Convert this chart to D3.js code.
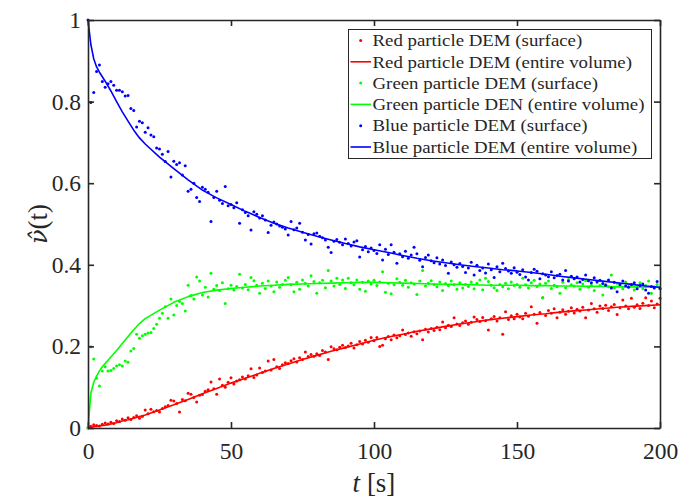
<!DOCTYPE html>
<html>
<head>
<meta charset="utf-8">
<script src="https://cdn.jsdelivr.net/npm/d3@7"></script>
<style>
  html, body { margin: 0; padding: 0; background: #fff; }
  svg { display: block; }
</style>
</head>
<body>
<svg id="chart" width="681" height="502"></svg>
<script>
// Mixing index of each tracer species, sampled once per second (surface particles)
const redSurface = [
  0, 0.004, 0.008, 0.006, 0.005, 0.009, 0.012, 0.010, 0.014, 0.011,
  0.018, 0.016, 0.022, 0.019, 0.025, 0.021, 0.026, 0.030, 0.024, 0.028,
  0.044, 0.035, 0.046, 0.040, 0.043, 0.039, 0.048, 0.052, 0.055, 0.068,
  0.066, 0.060, 0.039, 0.070, 0.067, 0.085, 0.083, 0.075, 0.064, 0.080,
  0.082, 0.090, 0.094, 0.113, 0.096, 0.083, 0.120, 0.105, 0.100, 0.112,
  0.123, 0.108, 0.115, 0.118, 0.125, 0.120, 0.128, 0.145, 0.124, 0.130,
  0.147, 0.136, 0.140, 0.164, 0.142, 0.168, 0.150, 0.146, 0.155, 0.160,
  0.158, 0.165, 0.170, 0.162, 0.172, 0.168, 0.186, 0.175, 0.180, 0.176,
  0.182, 0.178, 0.190, 0.186, 0.168, 0.199, 0.194, 0.192, 0.198, 0.203,
  0.197, 0.201, 0.208, 0.196, 0.204, 0.212, 0.206, 0.215, 0.210, 0.222,
  0.214, 0.222, 0.200, 0.203, 0.219, 0.224, 0.216, 0.228, 0.221, 0.226,
  0.240, 0.229, 0.233, 0.225, 0.236, 0.231, 0.238, 0.216, 0.242, 0.235,
  0.244, 0.239, 0.247, 0.241, 0.260, 0.246, 0.252, 0.249, 0.270, 0.255,
  0.251, 0.258, 0.262, 0.254, 0.259, 0.272, 0.266, 0.261, 0.271, 0.263,
  0.240, 0.268, 0.273, 0.262, 0.270, 0.230, 0.285, 0.266, 0.275, 0.268,
  0.279, 0.272, 0.268, 0.281, 0.274, 0.297, 0.279, 0.257, 0.283, 0.319,
  0.276, 0.288, 0.281, 0.292, 0.270, 0.284, 0.290, 0.279, 0.286, 0.295,
  0.282, 0.291, 0.287, 0.296, 0.270, 0.289, 0.305, 0.292, 0.284, 0.299,
  0.293, 0.301, 0.288, 0.297, 0.303, 0.278, 0.295, 0.314, 0.299, 0.292,
  0.318, 0.296, 0.302, 0.293, 0.306, 0.319, 0.300, 0.311, 0.295, 0.304,
  0.318
];
const greenSurface = [
  0, 0.199, 0.169, 0.122, 0.103, 0.140, 0.150, 0.140, 0.141, 0.146,
  0.152, 0.155, 0.152, 0.164, 0.161, 0.189, 0.195, 0.230, 0.220, 0.226,
  0.230, 0.233, 0.234, 0.244, 0.254, 0.269, 0.281, 0.297, 0.269, 0.316,
  0.277, 0.300, 0.310, 0.305, 0.287, 0.350, 0.325, 0.316, 0.370, 0.360,
  0.326, 0.345, 0.321, 0.379, 0.340, 0.349, 0.337, 0.356, 0.305, 0.341,
  0.350, 0.338, 0.347, 0.377, 0.343, 0.352, 0.339, 0.369, 0.361, 0.350,
  0.330, 0.355, 0.342, 0.360, 0.348, 0.334, 0.358, 0.345, 0.352, 0.362,
  0.369, 0.351, 0.334, 0.357, 0.340, 0.363, 0.355, 0.348, 0.373, 0.359,
  0.330, 0.356, 0.362, 0.344, 0.386, 0.360, 0.348, 0.367, 0.352, 0.363,
  0.342, 0.367, 0.356, 0.351, 0.363, 0.340, 0.357, 0.335, 0.360, 0.353,
  0.362, 0.349, 0.358, 0.383, 0.333, 0.355, 0.329, 0.351, 0.366, 0.357,
  0.350, 0.362, 0.345, 0.356, 0.353, 0.327, 0.360, 0.386, 0.348, 0.355,
  0.361, 0.352, 0.346, 0.358, 0.337, 0.354, 0.349, 0.360, 0.351, 0.340,
  0.356, 0.343, 0.352, 0.347, 0.358, 0.341, 0.355, 0.363, 0.339, 0.367,
  0.359, 0.350, 0.344, 0.337, 0.352, 0.346, 0.355, 0.341, 0.358, 0.349,
  0.352, 0.345, 0.367, 0.351, 0.343, 0.356, 0.362, 0.347, 0.353, 0.319,
  0.355, 0.360, 0.342, 0.350, 0.346, 0.330, 0.357, 0.344, 0.364, 0.351,
  0.348, 0.356, 0.340, 0.353, 0.361, 0.345, 0.350, 0.337, 0.356, 0.349,
  0.326, 0.352, 0.346, 0.375, 0.343, 0.355, 0.349, 0.341, 0.358, 0.347,
  0.352, 0.338, 0.345, 0.356, 0.341, 0.349, 0.360, 0.330, 0.346, 0.352,
  0.341
];
const blueSurface = [
  1.000, 0.798, 0.822, 0.874, 0.890, 0.849, 0.835, 0.844, 0.849, 0.840,
  0.828, 0.828, 0.824, 0.814, 0.815, 0.783, 0.778, 0.738, 0.752, 0.748,
  0.725, 0.736, 0.718, 0.714, 0.686, 0.684, 0.671, 0.653, 0.678, 0.615,
  0.654, 0.646, 0.650, 0.620, 0.643, 0.580, 0.585, 0.600, 0.565, 0.555,
  0.590, 0.585, 0.578, 0.506, 0.565, 0.580, 0.558, 0.550, 0.592, 0.545,
  0.548, 0.540, 0.552, 0.502, 0.535, 0.528, 0.520, 0.485, 0.530, 0.524,
  0.515, 0.520, 0.510, 0.479, 0.497, 0.505, 0.500, 0.495, 0.492, 0.488,
  0.473, 0.506, 0.486, 0.490, 0.502, 0.480, 0.461, 0.474, 0.451, 0.476,
  0.478, 0.470, 0.466, 0.461, 0.443, 0.430, 0.458, 0.462, 0.455, 0.449,
  0.463, 0.452, 0.446, 0.456, 0.459, 0.419, 0.437, 0.445, 0.432, 0.441,
  0.435, 0.428, 0.449, 0.412, 0.438, 0.425, 0.449, 0.431, 0.404, 0.427,
  0.420, 0.433, 0.416, 0.424, 0.443, 0.427, 0.411, 0.395, 0.418, 0.424,
  0.410, 0.405, 0.417, 0.402, 0.412, 0.398, 0.379, 0.407, 0.400, 0.394,
  0.403, 0.396, 0.381, 0.392, 0.406, 0.375, 0.399, 0.386, 0.392, 0.380,
  0.402, 0.388, 0.369, 0.395, 0.383, 0.404, 0.391, 0.385, 0.379, 0.393,
  0.382, 0.376, 0.388, 0.370, 0.363, 0.381, 0.389, 0.384, 0.366, 0.378,
  0.375, 0.371, 0.383, 0.368, 0.374, 0.377, 0.363, 0.386, 0.360, 0.372,
  0.366, 0.370, 0.358, 0.364, 0.375, 0.361, 0.356, 0.368, 0.359, 0.362,
  0.354, 0.350, 0.363, 0.343, 0.357, 0.334, 0.352, 0.360, 0.348, 0.345,
  0.352, 0.356, 0.341, 0.349, 0.353, 0.338, 0.330, 0.347, 0.343, 0.359,
  0.342
];

// Whole-volume curves, sampled at these times [s]
const volumeTimes = [0, 1, 2, 3, 4, 5, 6, 8, 10, 12, 14, 16, 18, 20,
  25, 30, 35, 40, 45, 50, 55, 60, 65, 70, 75, 80, 85, 90, 95, 100,
  105, 110, 115, 120, 125, 130, 135, 140, 145, 150, 155, 160, 165, 170,
  175, 180, 185, 190, 195, 200];
const redVolume = [0, 0.002, 0.003, 0.004, 0.005, 0.006, 0.007, 0.010, 0.013, 0.017, 0.020, 0.024, 0.028, 0.032,
  0.044, 0.057, 0.070, 0.084, 0.097, 0.110, 0.122, 0.134, 0.146, 0.157, 0.168, 0.178, 0.188, 0.197, 0.206, 0.215,
  0.223, 0.230, 0.237, 0.243, 0.249, 0.255, 0.260, 0.265, 0.269, 0.273, 0.277, 0.280, 0.284, 0.287,
  0.290, 0.293, 0.296, 0.298, 0.300, 0.302];
const greenVolume = [0, 0.085, 0.112, 0.127, 0.140, 0.150, 0.158, 0.174, 0.190, 0.207, 0.224, 0.241, 0.256, 0.268,
  0.289, 0.308, 0.322, 0.332, 0.338, 0.342, 0.345, 0.348, 0.350, 0.352, 0.353, 0.354, 0.355, 0.356, 0.357, 0.357,
  0.356, 0.355, 0.354, 0.353, 0.352, 0.352, 0.351, 0.350, 0.350, 0.350, 0.349, 0.349, 0.348, 0.348,
  0.347, 0.347, 0.346, 0.346, 0.345, 0.345];
const blueVolume = [1.000, 0.940, 0.905, 0.885, 0.872, 0.861, 0.850, 0.826, 0.800, 0.775, 0.752, 0.730, 0.711, 0.696,
  0.664, 0.636, 0.608, 0.583, 0.564, 0.548, 0.531, 0.516, 0.502, 0.490, 0.480, 0.470, 0.461, 0.452, 0.444, 0.437,
  0.430, 0.423, 0.416, 0.410, 0.405, 0.400, 0.396, 0.392, 0.388, 0.385, 0.381, 0.377, 0.372, 0.368,
  0.364, 0.360, 0.356, 0.352, 0.348, 0.345];

const xTicks = [0, 50, 100, 150, 200];
const yTicks = [0, 0.2, 0.4, 0.6, 0.8, 1];
const legendLabels = [
  "Red particle DEM (surface)",
  "Red particle DEM (entire volume)",
  "Green particle DEM (surface)",
  "Green particle DEN (entire volume)",
  "Blue particle DEM (surface)",
  "Blue particle DEM (entire volume)"
];

const colors = { red: "#ff0000", green: "#00ff00", blue: "#0000ff" };
const axisColor = "#262626";
const serif = "Liberation Serif";

const svg = d3.select("#chart");
const plot = { left: 88, right: 660, top: 20, bottom: 428 };

const x = d3.scaleLinear().domain([0, 200]).range([plot.left, plot.right]);
const y = d3.scaleLinear().domain([0, 1]).range([plot.bottom, plot.top]);

const series = [
  { surface: redSurface, volume: redVolume, color: colors.red },
  { surface: greenSurface, volume: greenVolume, color: colors.green },
  { surface: blueSurface, volume: blueVolume, color: colors.blue }
];

const line = d3.line().x(d => x(d[0])).y(d => y(d[1]));
const data = svg.append("g");

series.forEach(s => {
  data.append("g").selectAll("circle")
    .data(s.surface)
    .join("circle")
    .attr("cx", (v, i) => x(i))
    .attr("cy", v => y(v))
    .attr("r", 1.5)
    .attr("fill", s.color);
  data.append("path")
    .datum(volumeTimes.map((t, i) => [t, s.volume[i]]))
    .attr("d", line)
    .attr("fill", "none")
    .attr("stroke", s.color)
    .attr("stroke-width", 1.6)
    .attr("stroke-linejoin", "round");
});

// Box axes with inward ticks on all four sides
const tickLen = 6;
const fmt = d => d3.format("")(d);

const bottomAxis = d3.axisBottom(x).tickValues(xTicks).tickSizeInner(-tickLen).tickSizeOuter(0).tickPadding(14).tickFormat(fmt);
const topAxis = d3.axisTop(x).tickValues(xTicks).tickSizeInner(-tickLen).tickSizeOuter(0).tickFormat("");
const leftAxis = d3.axisLeft(y).tickValues(yTicks).tickSizeInner(-tickLen).tickSizeOuter(0).tickPadding(7).tickFormat(fmt);
const rightAxis = d3.axisRight(y).tickValues(yTicks).tickSizeInner(-tickLen).tickSizeOuter(0).tickFormat("");

function styleAxis(g) {
  g.attr("font-family", serif).attr("font-size", 23.5);
  g.selectAll("path.domain").attr("stroke", axisColor).attr("stroke-width", 1.6);
  g.selectAll(".tick line").attr("stroke", axisColor).attr("stroke-width", 1.6);
  g.selectAll(".tick text")
    .attr("fill", axisColor)
    .attr("font-family", serif)
    .attr("font-size", 23.5);
}

svg.append("g").attr("transform", `translate(0,${plot.bottom})`).call(bottomAxis).call(styleAxis);
svg.append("g").attr("transform", `translate(0,${plot.top})`).call(topAxis).call(styleAxis);
svg.append("g").attr("transform", `translate(${plot.left},0)`).call(leftAxis).call(styleAxis);
svg.append("g").attr("transform", `translate(${plot.right},0)`).call(rightAxis).call(styleAxis);

// Axis titles
const xTitle = svg.append("text")
  .attr("x", (plot.left + plot.right) / 2)
  .attr("y", 492)
  .attr("text-anchor", "middle")
  .attr("fill", axisColor)
  .attr("font-family", serif)
  .attr("font-size", 27);
xTitle.append("tspan").attr("font-style", "italic").text("t");
xTitle.append("tspan").text(" [s]");

const yTitle = svg.append("text")
  .attr("transform", `translate(47,${(plot.top + plot.bottom) / 2}) rotate(-90)`)
  .attr("text-anchor", "middle")
  .attr("fill", axisColor)
  .attr("font-family", serif)
  .attr("font-size", 27);
yTitle.append("tspan").attr("font-family", "DejaVu Serif").attr("font-style", "italic").attr("font-size", 24).text("ν\u0302");
yTitle.append("tspan").text("(t)");

// Legend
const legend = svg.append("g");
const lg = { x: 348.5, y: 29.5, w: 303, h: 129, row: 21.3, first: 40.5, textX: 372.5, longest: 272 };
legend.append("rect")
  .attr("x", lg.x).attr("y", lg.y).attr("width", lg.w).attr("height", lg.h)
  .attr("fill", "#fff").attr("stroke", axisColor).attr("stroke-width", 1);

const legendItems = [
  { kind: "dot", color: colors.red },
  { kind: "line", color: colors.red },
  { kind: "dot", color: colors.green },
  { kind: "line", color: colors.green },
  { kind: "dot", color: colors.blue },
  { kind: "line", color: colors.blue }
];

const labelNodes = [];
legendItems.forEach((item, i) => {
  const cy = lg.first + i * lg.row;
  if (item.kind === "dot") {
    legend.append("circle").attr("cx", 360.7).attr("cy", cy).attr("r", 1.5).attr("fill", item.color);
  } else {
    legend.append("line").attr("x1", 350.5).attr("x2", 371).attr("y1", cy).attr("y2", cy)
      .attr("stroke", item.color).attr("stroke-width", 1.6);
  }
  labelNodes.push(legend.append("text")
    .attr("x", lg.textX)
    .attr("y", cy)
    .attr("dy", "0.34em")
    .attr("fill", axisColor)
    .attr("font-family", serif)
    .attr("font-size", 17)
    .text(legendLabels[i]));
});
// widen the labels evenly so the longest entry spans the box
const widths = labelNodes.map(n => n.node().getComputedTextLength());
const stretch = lg.longest / d3.max(widths);
labelNodes.forEach((n, i) => n.attr("textLength", widths[i] * stretch).attr("lengthAdjust", "spacingAndGlyphs"));
</script>
</body>
</html>
